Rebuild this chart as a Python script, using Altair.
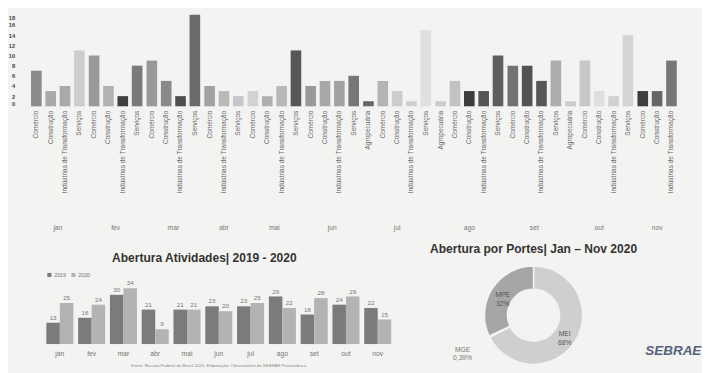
import math
import altair as alt
import pandas as pd

# ---------------- data ----------------
top_month = (["jan"] * 4 + ["fev"] * 4 + ["mar"] * 4 + ["abr"] * 3 + ["mai"] * 4 +
             ["jun"] * 4 + ["jul"] * 5 + ["ago"] * 5 + ["set"] * 4 + ["out"] * 5 + ["nov"] * 3)
C, CO, I, S, A = "Comércio", "Construção", "Indústrias de Transformação", "Serviços", "Agropecuária"
top_sector = ([C, CO, I, S] * 3 + [C, I, S] + [C, CO, I, S] * 2 + [A, C, CO, I, S] * 2 +
              [C, CO, I, S] + [A, C, CO, I, S] + [C, CO, I])
top_value = [7, 3, 4, 11, 10, 4, 2, 8, 9, 5, 2, 18,
             4, 3, 2,
             3, 2, 4, 11,
             4, 5, 5, 6,
             1, 5, 3, 1, 15,
             1, 5, 3, 3, 10,
             8, 8, 5, 9,
             1, 9, 3, 2, 14,
             3, 3, 9]

months = ["jan", "fev", "mar", "abr", "mai", "jun", "jul", "ago", "set", "out", "nov"]
y2019 = [13, 16, 30, 21, 21, 23, 23, 29, 18, 24, 22]
y2020 = [25, 24, 34, 9, 21, 20, 25, 22, 28, 29, 15]

porte_names = ["MEI", "MGE", "MPE"]
porte_values = [67.61, 0.39, 32.0]
porte_labels = ["MEI\n68%", "MGE\n0,39%", "MPE\n32%"]

footnote = "Fonte: Receita Federal do Brasil 2020. Elaboração: Observatório do SEBRAE Pernambuco."
logo_text = ["SEBRAE"]

# ---------------- styles ----------------
bar_grays = ["#8a8a8a", "#a9a9a9", "#a9a9a9", "#cdcdcd", "#999999", "#b2b2b2", "#3f3f3f", "#7a7a7a",
             "#989898", "#8a8a8a", "#4f4f4f", "#6a6a6a", "#a2a2a2", "#b8b8b8", "#c4c8cc", "#d2d2d2",
             "#afafaf", "#b8b8b8", "#575757", "#9a9a9a", "#a8a8a8", "#a2a2a2", "#777777", "#666666",
             "#b4b4b4", "#cccccc", "#cfcfcf", "#dfe0e4", "#cccccc", "#c2c2c2", "#3c3c3c", "#565656",
             "#5e5e5e", "#727272", "#525252", "#575757", "#adadad", "#cccccc", "#c8c8c8", "#dedede",
             "#d0d0d0", "#d4d4d4", "#3e3e3e", "#666666", "#777777"]
FONT = "Liberation Sans"
BG = "#f3f3f1"

# ---------------- top chart ----------------
top_df = pd.DataFrame({"idx": list(range(len(top_value))), "month": top_month,
                       "sector": top_sector, "value": top_value})

top = alt.Chart(top_df).mark_bar().encode(
    x=alt.X("sector:N", sort=alt.EncodingSortField("idx", op="min"),
            scale=alt.Scale(paddingInner=0.26, paddingOuter=0.13),
            axis=alt.Axis(title=None, labelAngle=270, labelFontSize=6.8, labelColor="#666",
                          labelFont=FONT, ticks=False, domain=False, labelPadding=4)),
    y=alt.Y("value:Q", scale=alt.Scale(domain=[0, 18]),
            axis=alt.Axis(values=list(range(0, 19, 2)), title=None, grid=False, domain=False,
                          ticks=False, labelFontSize=6, labelFont=FONT, labelColor="#444",
                          labelFontWeight="bold", labelFlush=True, labelPadding=15)),
    color=alt.Color("idx:N", scale=alt.Scale(domain=list(range(len(top_value))), range=bar_grays),
                    legend=None),
).properties(width=alt.Step(14.9), height=95).facet(
    column=alt.Column("month:N", sort=months, title=None,
                      header=alt.Header(orient="bottom", labelFontSize=7, labelColor="#777",
                                        labelFont=FONT, labelPadding=32)),
    spacing=0,
).resolve_scale(x="independent")

# ---------------- bottom-left chart ----------------
bl_df = pd.DataFrame({"month": months * 2, "year": ["2019"] * 11 + ["2020"] * 11,
                      "value": y2019 + y2020})

base = alt.Chart(bl_df).encode(
    x=alt.X("month:N", sort=months, scale=alt.Scale(paddingInner=0.15, paddingOuter=0.54),
            axis=alt.Axis(title=footnote, titleFontSize=4.5, titleColor="#888", titleFont=FONT,
                          titleFontWeight="normal", titlePadding=6, labelAngle=0, labelFontSize=7,
                          labelColor="#777", labelFont=FONT, ticks=False, domain=False,
                          labelPadding=6)),
    xOffset=alt.XOffset("year:N", scale=alt.Scale(paddingInner=0)),
    y=alt.Y("value:Q", scale=alt.Scale(domain=[0, 44]), axis=None),
)
bars = base.mark_bar().encode(
    color=alt.Color("year:N", scale=alt.Scale(domain=["2019", "2020"], range=["#7b7b7b", "#b3b3b3"]),
                    legend=alt.Legend(title=None, orient="none", legendX=18, legendY=0,
                                      direction="horizontal", symbolType="square", symbolSize=18,
                                      labelFontSize=5.5, labelColor="#777", labelFont=FONT,
                                      columnPadding=4, labelOffset=2)),
)
vals = base.mark_text(dy=-5, fontSize=6.5, color="#777", font=FONT).encode(text="value:Q")
left = (bars + vals).properties(
    width=394, height=75,
    title=alt.TitleParams("Abertura Atividades| 2019 - 2020", fontSize=12.5, font=FONT,
                          fontWeight="bold", color="#333", dx=-15, offset=8, anchor="middle"),
)

# ---------------- donut ----------------
donut_df = pd.DataFrame({"porte": porte_names, "value": porte_values, "label": porte_labels,
                         "order": [0, 1, 2]})
arc = alt.Chart(donut_df).mark_arc(innerRadius=27, outerRadius=51, stroke=BG, strokeWidth=1.5).encode(
    theta=alt.Theta("value:Q", stack=True),
    order=alt.Order("order:Q"),
    color=alt.Color("porte:N", scale=alt.Scale(domain=porte_names, range=["#cfcfcf", "#eeeeee", "#a6a6a6"]),
                    legend=None),
)
lab_base = alt.Chart(donut_df).transform_window(
    cum="sum(value)", sort=[alt.SortField("order")]
).transform_calculate(mid="datum.cum - datum.value / 2")
theta_mid = alt.Theta("mid:Q", stack=None, scale=alt.Scale(domain=[0, 100], range=[0, 2 * math.pi]))
lab_in = lab_base.transform_filter("datum.porte != 'MGE'").mark_text(
    radius=38, fontSize=7, color="#555", font=FONT, lineBreak="\n").encode(theta=theta_mid, text="label:N")
lab_out = lab_base.transform_filter("datum.porte == 'MGE'").mark_text(
    radius=82, fontSize=7, color="#777", font=FONT, lineBreak="\n").encode(theta=theta_mid, text="label:N")
logo = alt.Chart(pd.DataFrame({"t": logo_text})).mark_text(
    align="left", baseline="middle", fontSize=14, fontWeight="bold", fontStyle="italic",
    font=FONT, color="#56627e",
).encode(text="t:N", x=alt.value(246), y=alt.value(82))

donut = (arc + lab_in + lab_out + logo).properties(
    width=260, height=90,
    title=alt.TitleParams("Abertura por Portes| Jan – Nov 2020", fontSize=12.5, font=FONT,
                          fontWeight="bold", color="#333", offset=8, anchor="middle"),
)

bottom = alt.hconcat(left, donut, spacing=0).resolve_scale(color="independent")

chart = alt.vconcat(top, bottom, spacing=12).resolve_scale(color="independent").properties(
    padding=0, background=BG
).configure_view(stroke=None)

chart.save("out.html", embed_options={"renderer": "svg", "actions": False})
